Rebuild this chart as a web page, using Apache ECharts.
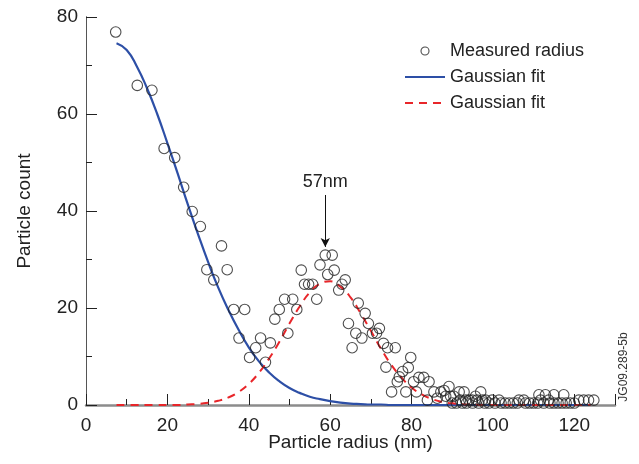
<!DOCTYPE html>
<html>
<head>
    <meta charset="utf-8" />
    <title>Particle radius</title>
    <script type="text/javascript" src="https://cdn.jsdelivr.net/npm/echarts@6.0.0/dist/echarts.min.js"></script>
    <style>
        html, body { margin: 0; padding: 0; background: #fff; }
        #con1 { width: 639px; height: 464px; }
    </style>
</head>
<body>
    <div id="con1"></div>
    <script type="text/javascript">
        // measured radius (nm) / count
        var measuredR = [7.3, 12.6, 16.2, 19.2, 21.8, 24.0, 26.1, 28.1, 33.3, 29.7, 34.7, 31.4, 36.3, 39.0, 37.6, 42.9,
            41.7, 45.3, 40.2, 44.1, 46.4, 47.5, 48.8, 50.8, 49.6, 51.8, 52.9, 53.7, 54.7, 55.7, 56.7, 57.5,
            58.8, 60.5, 59.4, 61.0, 62.1, 62.9, 63.7, 66.9, 68.6, 64.5, 69.4, 66.3, 67.8, 65.4, 70.4, 71.4,
            72.1, 73.1, 74.1, 76.0, 73.7, 75.1, 77.8, 77.0, 76.5, 79.8, 79.2, 80.5, 81.8, 83.0, 84.3, 78.6,
            81.2, 85.5, 87.2, 88.0, 89.2, 83.9, 86.3, 88.4, 89.6, 90.4, 91.7, 92.9, 92.0, 93.3, 94.1, 94.9,
            95.7, 97.0, 96.1, 97.4, 98.2, 99.8, 101.5, 106.4, 107.6, 111.3, 112.9, 115.0, 117.4, 111.7, 113.7,
            121.1, 122.3, 123.5, 124.8,
            90.0, 91.0, 92.5, 93.5, 95.0, 96.5, 98.0, 99.0, 100.5, 102.0, 103.0, 104.0, 105.0, 106.0, 108.0,
            109.0, 110.0, 111.0, 112.5, 114.0, 115.0, 116.0, 117.0, 118.0, 119.0, 120.0];
        var measuredCount = [76.9, 65.9, 64.9, 52.9, 51.0, 44.9, 39.9, 36.8, 32.8, 27.9, 27.9, 25.8, 19.7, 19.7, 13.8, 13.8,
            11.8, 12.8, 9.8, 8.8, 17.7, 19.7, 21.8, 21.8, 14.8, 19.7, 27.8, 24.9, 24.9, 24.9, 21.8, 28.9,
            30.9, 30.9, 26.9, 27.8, 23.7, 24.9, 25.8, 21.0, 18.9, 16.8, 16.8, 14.8, 13.8, 11.8, 14.8, 14.8,
            15.8, 12.7, 11.8, 11.8, 7.8, 2.7, 6.9, 5.8, 4.8, 9.8, 7.7, 4.8, 5.7, 5.7, 4.8, 2.7,
            2.7, 2.7, 2.7, 3.0, 3.8, 1.0, 1.4, 1.8, 1.8, 1.8, 2.7, 2.7, 1.0, 1.0, 1.0, 1.0,
            1.8, 2.7, 1.0, 1.0, 1.0, 1.0, 1.0, 1.0, 1.0, 2.1, 2.1, 2.1, 2.1, 1.0, 1.0,
            1.0, 1.0, 1.0, 1.0,
            0.4, 0.4, 0.4, 0.4, 0.4, 0.4, 0.4, 0.4, 0.4, 0.4, 0.4, 0.4, 0.4, 0.4, 0.4,
            0.4, 0.4, 0.4, 0.4, 0.4, 0.4, 0.4, 0.4, 0.4, 0.4, 0.4];

        // the two fitted curves, sampled off the figure
        var fitR = [7.5, 10, 12.5, 15, 17.5, 20, 22.5, 25, 27.5, 30, 32.5, 35, 37.5, 40, 42.5, 45, 47.5, 50, 52.5, 55,
            57.5, 60, 62.5, 65, 67.5, 70, 72.5, 75, 77.5, 80, 82.5, 85, 87.5, 90, 95, 100, 105, 110, 115, 124];
        var fitSmall = [74.6, 73.2, 69.8, 65.3, 60.0, 54.0, 47.8, 41.4, 35.3, 29.5, 24.2, 19.6, 15.5, 11.9, 9.0, 6.7, 4.9, 3.5, 2.5, 1.7,
            1.2, 0.8, 0.5, 0.3, 0.2, 0.1, 0.1, 0, 0, 0, 0, 0, 0, 0, 0, 0, 0, 0, 0, 0];
        var fitLarge = [0, 0, 0, 0, 0, 0, 0, 0.1, 0.2, 0.45, 0.86, 1.56, 2.68, 4.35, 6.65, 9.6, 13.0, 16.8, 20.3, 23.2,
            25.0, 25.5, 24.4, 22.2, 18.9, 15.3, 11.6, 8.3, 5.7, 3.6, 2.2, 1.24, 0.66, 0.34, 0.07, 0, 0, 0, 0, 0];

        var peakR = 58.8;
        var peakText = '57nm';

        function pairs(xs, ys) {
            var out = [];
            for (var i = 0; i < xs.length; i++) out.push([xs[i], ys[i]]);
            return out;
        }

        var myChart1 = echarts.init(document.getElementById('con1'), null, { renderer: 'canvas' });
        var font = 'Liberation Sans, Arial, Helvetica, sans-serif';

        var option1 = {
            backgroundColor: '#ffffff',
            animation: false,
            textStyle: { fontFamily: font },
            grid: { left: 86, right: 24, top: 17, bottom: 59 },
            legend: {
                orient: 'vertical',
                left: 399,
                top: 37,
                itemWidth: 40,
                itemHeight: 8,
                itemGap: 8,
                textStyle: { fontSize: 18, color: '#222', fontFamily: font },
                data: [
                    { name: 'Measured radius', icon: 'circle',
                      itemStyle: { color: '#fff', borderColor: '#222', borderWidth: 1.1 } },
                    { name: 'Gaussian fit', itemStyle: { opacity: 0 } },
                    { name: 'Gaussian fit ', itemStyle: { opacity: 0 } }
                ]
            },
            xAxis: [{
                type: 'value',
                min: 0,
                max: 130,
                interval: 20,
                name: 'Particle radius (nm)',
                nameLocation: 'middle',
                nameGap: 28,
                nameMoveOverlap: false,
                nameTextStyle: { fontSize: 19, color: '#222' },
                axisLine: { lineStyle: { color: '#8c8c8c', width: 2.5 } },
                axisTick: { inside: true, length: 11, lineStyle: { color: '#222', width: 1 } },
                axisLabel: {
                    fontSize: 19, color: '#222', margin: 11,
                    formatter: function (v) { return v % 20 === 0 && v <= 120 ? v : ''; }
                },
                splitLine: { show: false }
            }, {
                type: 'value',
                min: 0,
                max: 130,
                interval: 10,
                position: 'bottom',
                axisLine: { show: false },
                axisTick: { inside: true, length: 6, lineStyle: { color: '#222', width: 1 } },
                axisLabel: { show: false },
                splitLine: { show: false }
            }],
            yAxis: [{
                type: 'value',
                min: 0,
                max: 80,
                interval: 20,
                name: 'Particle count',
                nameLocation: 'middle',
                nameGap: 52,
                nameTextStyle: { fontSize: 19, color: '#222' },
                axisLine: { show: true, lineStyle: { color: '#333', width: 1 } },
                axisTick: { inside: true, length: 11, lineStyle: { color: '#222', width: 1 } },
                minorTick: { show: true, splitNumber: 2, length: 6, lineStyle: { color: '#222', width: 1 } },
                axisLabel: { fontSize: 19, color: '#222', margin: 8 },
                splitLine: { show: false }
            }, {
                type: 'value',
                min: 0,
                max: 80,
                position: 'right',
                axisLine: { show: true, lineStyle: { color: '#555', width: 1 } },
                axisTick: { show: false },
                axisLabel: { show: false },
                splitLine: { show: false }
            }],
            series: [
                {
                    name: 'Gaussian fit',
                    type: 'line',
                    data: pairs(fitR, fitSmall),
                    smooth: 0.5,
                    symbol: 'none',
                    lineStyle: { color: '#2d4fa6', width: 2.2 },
                    itemStyle: { color: '#2d4fa6' },
                    z: 2
                },
                {
                    name: 'Gaussian fit ',
                    type: 'line',
                    data: pairs(fitR, fitLarge),
                    smooth: 0.5,
                    symbol: 'none',
                    lineStyle: { color: '#e8262a', width: 2, type: [8, 6] },
                    itemStyle: { color: '#e8262a' },
                    z: 3
                },
                {
                    name: 'Measured radius',
                    type: 'scatter',
                    data: pairs(measuredR, measuredCount),
                    symbol: 'circle',
                    symbolSize: 10.5,
                    itemStyle: { color: 'rgba(255,255,255,0)', borderColor: '#222', borderWidth: 1.1 },
                    z: 4,
                    markLine: {
                        silent: true,
                        symbol: ['none', 'arrow'],
                        symbolSize: [7, 9],
                        lineStyle: { color: '#111', type: 'solid', width: 1 },
                        label: { show: true, position: 'start', formatter: peakText, fontSize: 18, color: '#222', distance: 4 },
                        data: [[{ coord: [peakR, 43.3] }, { coord: [peakR, 32.6] }]]
                    }
                }
            ],
            graphic: [{
                type: 'text',
                x: 624,
                y: 367,
                rotation: Math.PI / 2,
                style: {
                    text: 'JG09.289-5b',
                    fontSize: 12,
                    fontFamily: font,
                    fill: '#333',
                    align: 'center',
                    verticalAlign: 'middle'
                }
            }]
        };
        option1 && myChart1.setOption(option1);
    </script>
</body>
</html>
